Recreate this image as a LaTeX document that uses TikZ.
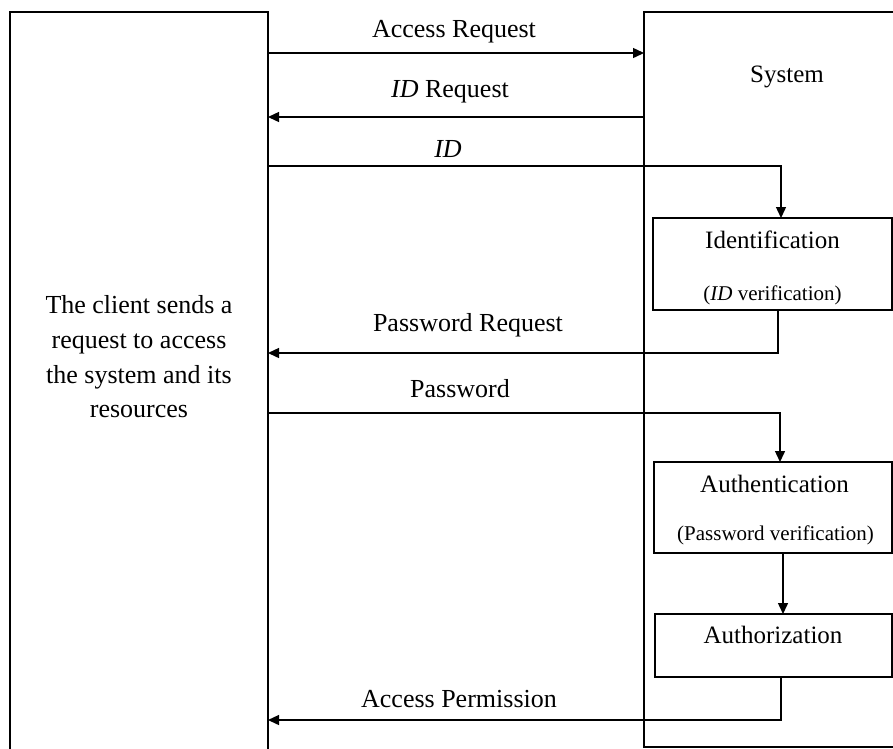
\documentclass[tikz,border=0pt]{standalone}
\usepackage{fontspec}
\setmainfont{Liberation Serif}
\usetikzlibrary{arrows.meta}
\begin{document}
\begin{tikzpicture}[x=1pt,y=-1pt,
  box/.style={draw, line width=1.4pt, inner sep=0pt, outer sep=0pt},
  flow/.style={line width=1.4pt, -{Triangle[length=11pt,width=10pt]}},
  lbl/.style={anchor=base, inner sep=0pt, font=\fontsize{26}{31}\selectfont},
  title/.style={anchor=base, inner sep=0pt, font=\fontsize{25}{30}\selectfont},
  sub/.style={anchor=base, inner sep=0pt, font=\fontsize{21}{25}\selectfont}]
\useasboundingbox (0,0) rectangle (893,748);
\clip (0,0) rectangle (893,748);

% participants
\node[box, minimum width=258pt, minimum height=778pt] (client) at (139,401) {};
\node[box, minimum width=276pt, minimum height=735pt] (system) at (782,379.5) {};
\node[title] (systemname) at (787,82) {System};

\node[lbl] (cl1) at (139,313) {The client sends a};
\node[lbl] (cl2) at (139,348) {request to access};
\node[lbl] (cl3) at (139,383) {the system and its};
\node[lbl] (cl4) at (139,417) {resources};

% verification stages inside the system
\node[box, minimum width=239pt, minimum height=92pt] (ident) at (772.5,264) {};
\node[title] (identname) at (772.5,248) {Identification};
\node[sub] (identsub) at (772.5,300) {(\textit{ID} verification)};

\node[box, minimum width=238pt, minimum height=91pt] (authn) at (773,507.5) {};
\node[title] (authnname) at (774.5,492) {Authentication};
\node[sub] (authnsub) at (775.5,540) {(Password verification)};

\node[box, minimum width=237pt, minimum height=63pt] (authz) at (773.5,645.5) {};
\node[title] (authzname) at (773,643) {Authorization};

% message exchange
\draw[flow] (client.east |- 0,53) -- (system.west |- 0,53);
\node[lbl] (m1) at (454,37) {Access Request};

\draw[flow] (system.west |- 0,117) -- (client.east |- 0,117);
\node[lbl] (m2) at (450,97) {\textit{ID} Request};

\draw[flow] (client.east |- 0,166) -| ([xshift=8.5pt]ident.north);
\node[lbl] (m3) at (448,157) {\textit{ID}};

\draw[flow] ([xshift=5.5pt]ident.south) |- (client.east |- 0,353);
\node[lbl] (m4) at (468,331) {Password Request};

\draw[flow] (client.east |- 0,413) -| ([xshift=7pt]authn.north);
\node[lbl] (m5) at (460,397) {Password};

\draw[flow] ([xshift=10pt]authn.south) -- ([xshift=10pt]authn.south |- authz.north);

\draw[flow] ([xshift=7.5pt]authz.south) |- (client.east |- 0,720);
\node[lbl] (m6) at (459,707) {Access Permission};
\end{tikzpicture}
\end{document}
